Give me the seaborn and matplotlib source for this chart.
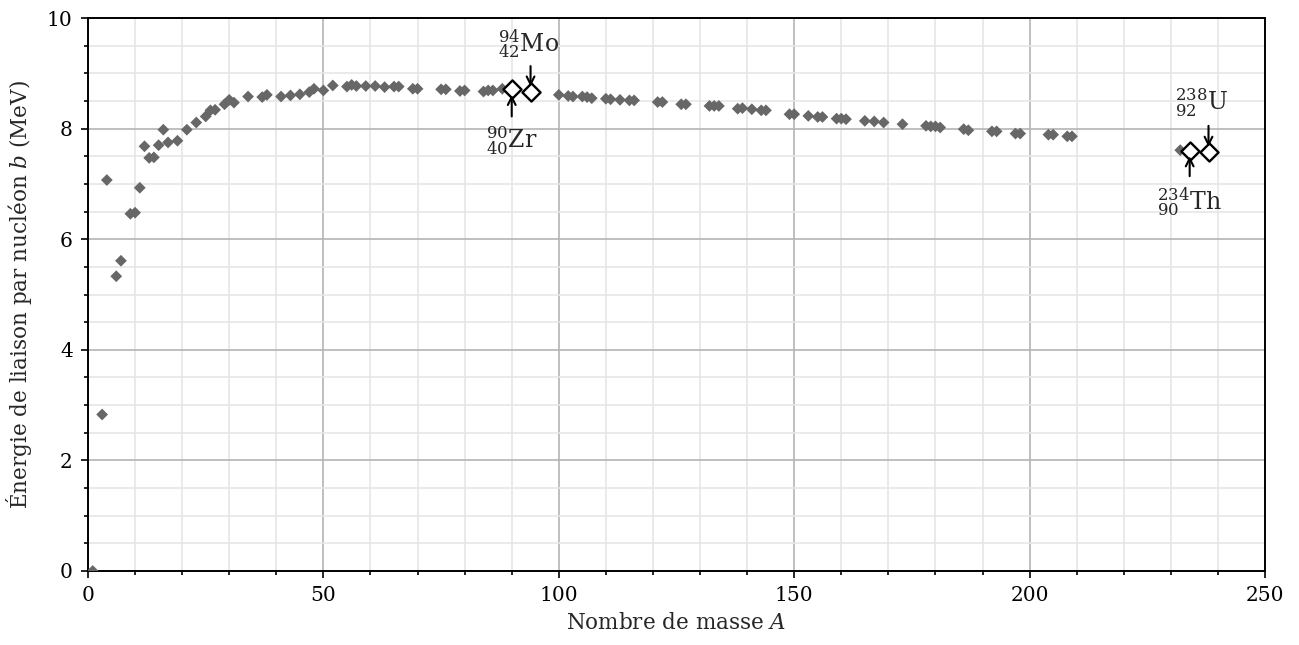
import numpy as np
import pandas as pd
import matplotlib
matplotlib.use("Agg")
import matplotlib.pyplot as plt
from matplotlib.ticker import MultipleLocator
import seaborn as sns

# Mass number A and binding energy per nucleon b (MeV) for stable nuclides
mass_numbers = [1, 3, 4, 6, 7, 9, 10, 11, 12, 13, 14, 15, 16, 17, 19, 21, 23, 25, 26, 27,
                29, 30, 31, 34, 37, 38, 41, 43, 45, 47, 48, 50, 52, 55, 56, 57, 59, 61, 63,
                65, 66, 69, 70, 75, 76, 79, 80, 84, 85, 86, 88, 100, 102, 103, 105, 106,
                107, 110, 111, 113, 115, 116, 121, 122, 126, 127, 132, 133, 134, 138, 139,
                141, 143, 144, 149, 150, 153, 155, 156, 159, 160, 161, 165, 167, 169, 173,
                178, 179, 180, 181, 186, 187, 192, 193, 197, 198, 204, 205, 208, 209, 232]
binding_energy = [0.00, 2.83, 7.07, 5.33, 5.61, 6.46, 6.48, 6.93, 7.68, 7.47, 7.48, 7.70,
                  7.98, 7.75, 7.78, 7.98, 8.11, 8.22, 8.33, 8.34, 8.44, 8.52, 8.47, 8.58,
                  8.57, 8.61, 8.58, 8.60, 8.62, 8.66, 8.72, 8.69, 8.78, 8.76, 8.79, 8.77,
                  8.77, 8.77, 8.75, 8.76, 8.76, 8.72, 8.72, 8.71, 8.71, 8.68, 8.69, 8.67,
                  8.69, 8.69, 8.72, 8.61, 8.59, 8.58, 8.58, 8.57, 8.55, 8.54, 8.53, 8.52,
                  8.51, 8.51, 8.48, 8.48, 8.44, 8.44, 8.41, 8.41, 8.41, 8.36, 8.37, 8.35,
                  8.33, 8.33, 8.26, 8.26, 8.23, 8.21, 8.21, 8.18, 8.18, 8.17, 8.14, 8.13,
                  8.11, 8.08, 8.05, 8.04, 8.04, 8.02, 7.99, 7.97, 7.95, 7.95, 7.91, 7.91,
                  7.89, 7.89, 7.86, 7.86, 7.61]

# Highlighted nuclides
hl_names = ["Zr", "Mo", "Th", "U"]
hl_mass = [90, 94, 234, 238]
hl_charge = [40, 42, 90, 92]
hl_energy = [8.71, 8.66, 7.60, 7.57]

sns.set_style("ticks")
plt.rcParams["font.family"] = ["DejaVu Serif"]
plt.rcParams["mathtext.fontset"] = "dejavuserif"

fig = plt.figure(figsize=(12.99, 6.45), dpi=100)
ax = fig.add_axes([88 / 1299, 1 - 571 / 645, (1265 - 88) / 1299, (571 - 18) / 645])

df = pd.DataFrame({"A": mass_numbers, "b": binding_energy})
hl = pd.DataFrame({"A": hl_mass, "b": hl_energy})

sns.scatterplot(data=df, x="A", y="b", marker="D", s=36, color="#676767",
                edgecolor="none", ax=ax, zorder=3)
sns.scatterplot(data=hl, x="A", y="b", marker="D", s=85, facecolor="white",
                edgecolor="black", linewidth=1.7, ax=ax, zorder=4)

ax.set_xlim(0, 250)
ax.set_ylim(0, 10)
ax.xaxis.set_major_locator(MultipleLocator(50))
ax.xaxis.set_minor_locator(MultipleLocator(10))
ax.yaxis.set_major_locator(MultipleLocator(2))
ax.yaxis.set_minor_locator(MultipleLocator(0.5))

ax.set_axisbelow(True)
ax.grid(which="minor", color="#e6e6e6", lw=1.2)
ax.grid(which="major", color="#b4b4b4", lw=1.2)

for s in ax.spines.values():
    s.set_visible(True)
    s.set_linewidth(1.4)
    s.set_color("black")

ax.tick_params(which="major", direction="out", length=5, width=1.2, labelsize=14.5, pad=6,
               color="black", labelcolor="black")
ax.tick_params(which="minor", direction="out", length=3, width=1.2, color="black")

ax.set_xlabel(r"Nombre de masse $A$", fontsize=15.5, labelpad=5)
ax.set_ylabel(r"Énergie de liaison par nucléon $b$ (MeV)", fontsize=15.5, labelpad=9)

# Labels and arrows for the highlighted nuclides
arrow_kw = dict(arrowstyle="->", lw=1.5, color="black", shrinkA=0, shrinkB=0,
                mutation_scale=14)
label_size = 17

def iso(mass, charge, name):
    return r"${}^{%d}_{%d}\mathrm{%s}$" % (mass, charge, name)

# Zr (label below, arrow up)
ax.annotate("", xy=(hl_mass[0], hl_energy[0] - 0.1), xytext=(hl_mass[0], 8.22),
            arrowprops=arrow_kw, zorder=5)
ax.text(hl_mass[0], 8.07, iso(hl_mass[0], hl_charge[0], hl_names[0]),
        ha="center", va="top", fontsize=label_size)
# Mo (label above, arrow down)
ax.annotate("", xy=(hl_mass[1], hl_energy[1] + 0.1), xytext=(hl_mass[1], 9.13),
            arrowprops=arrow_kw, zorder=5)
ax.text(hl_mass[1] - 0.5, 9.24, iso(hl_mass[1], hl_charge[1], hl_names[1]),
        ha="center", va="bottom", fontsize=label_size)
# Th (label below, arrow up)
ax.annotate("", xy=(hl_mass[2], hl_energy[2] - 0.1), xytext=(hl_mass[2], 7.14),
            arrowprops=arrow_kw, zorder=5)
ax.text(hl_mass[2], 6.98, iso(hl_mass[2], hl_charge[2], hl_names[2]),
        ha="center", va="top", fontsize=label_size)
# U (label above, arrow down)
ax.annotate("", xy=(hl_mass[3], hl_energy[3] + 0.1), xytext=(hl_mass[3], 8.05),
            arrowprops=arrow_kw, zorder=5)
ax.text(hl_mass[3] - 1.5, 8.18, iso(hl_mass[3], hl_charge[3], hl_names[3]),
        ha="center", va="bottom", fontsize=label_size)

fig.savefig("out.png", dpi=100)
